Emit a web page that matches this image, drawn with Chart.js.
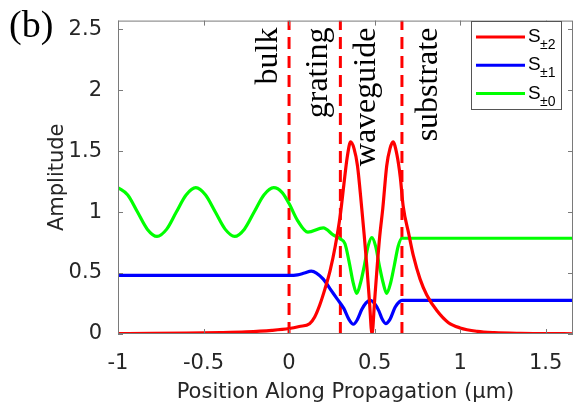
<!DOCTYPE html>
<html>
<head>
<meta charset="utf-8">
<script src="https://cdn.jsdelivr.net/npm/chart.js@4"></script>
<style>
  body { margin: 0; background: #fff; }
  #wrap { width: 574px; height: 408px; }
</style>
</head>
<body>
<div id="wrap"><canvas id="ampChart" width="574" height="408"></canvas></div>
<script>
// position (um), amplitude pairs
const sPm2 = [
  [-1, 0.004], [-0.8, 0.005], [-0.6, 0.007], [-0.4, 0.011], [-0.25, 0.017], [-0.1, 0.03],
  [0, 0.045], [0.06, 0.062], [0.12, 0.085], [0.15, 0.14], [0.18, 0.24], [0.21, 0.37],
  [0.24, 0.52], [0.27, 0.72], [0.30, 0.98], [0.32, 1.22], [0.34, 1.45], [0.36, 1.575],
  [0.38, 1.52], [0.40, 1.38], [0.425, 1.03], [0.44, 0.80], [0.455, 0.55], [0.47, 0.27],
  [0.485, 0.0], [0.50, 0.27], [0.515, 0.55], [0.53, 0.80], [0.548, 1.03], [0.571, 1.38],
  [0.59, 1.52], [0.608, 1.575], [0.63, 1.475], [0.65, 1.29], [0.667, 1.05], [0.70, 0.82],
  [0.727, 0.64], [0.766, 0.45], [0.805, 0.32], [0.865, 0.19], [0.93, 0.095], [1.0, 0.05],
  [1.1, 0.022], [1.2, 0.011], [1.35, 0.005], [1.5, 0.003], [1.66, 0.002]
];
const sPm1 = [
  [-1, 0.48], [0, 0.48], [0.05, 0.485], [0.09, 0.5], [0.13, 0.515], [0.16, 0.5],
  [0.2, 0.45], [0.24, 0.37], [0.28, 0.29], [0.32, 0.21], [0.35, 0.12], [0.376, 0.08],
  [0.40, 0.12], [0.425, 0.2], [0.45, 0.255], [0.474, 0.275], [0.50, 0.25], [0.525, 0.19],
  [0.545, 0.12], [0.565, 0.085], [0.59, 0.12], [0.62, 0.22], [0.645, 0.265], [0.66, 0.275],
  [1.66, 0.275]
];
const sPm0 = [
  [-1, 1.2], [-0.943, 1.14], [-0.886, 1.0], [-0.829, 0.86], [-0.772, 0.8], [-0.715, 0.86],
  [-0.659, 1.0], [-0.602, 1.14], [-0.545, 1.2], [-0.488, 1.14], [-0.431, 1.0], [-0.374, 0.86],
  [-0.318, 0.8], [-0.261, 0.86], [-0.204, 1.0], [-0.147, 1.14], [-0.09, 1.2], [-0.04, 1.16],
  [0, 1.07], [0.05, 0.93], [0.11, 0.835], [0.2, 0.87], [0.26, 0.81], [0.3, 0.78],
  [0.327, 0.74], [0.35, 0.6], [0.375, 0.42], [0.396, 0.333], [0.418, 0.42], [0.44, 0.56],
  [0.462, 0.72], [0.484, 0.79], [0.506, 0.72], [0.528, 0.56], [0.55, 0.42], [0.571, 0.333],
  [0.594, 0.42], [0.615, 0.56], [0.638, 0.72], [0.66, 0.785], [1.66, 0.785]
];
const boundaries = [0, 0.3, 0.66];
const regionNames = ['bulk', 'grating', 'waveguide', 'substrate'];
const legendNames = [['S', '\u00b12'], ['S', '\u00b11'], ['S', '\u00b10']];
const xTicks = [-1, -0.5, 0, 0.5, 1, 1.5];
const yTicks = [0, 0.5, 1, 1.5, 2, 2.5];
const xMin = -1, xMax = 1.66, yMin = 0, yMax = 2.57;

const colors = ['#FF0000', '#0000FF', '#00FF00'];
const axisGray = '#7a7a7a';
const textDark = '#262626';
const sans = 'DejaVu Sans';

const toPts = arr => arr.map(p => ({ x: p[0], y: p[1] }));

const curve = (data, color, order) => ({
  data: toPts(data),
  borderColor: color,
  borderWidth: 3.2,
  pointRadius: 0,
  cubicInterpolationMode: 'monotone',
  order: order,
});

const dashed = boundaries.map(b => ({
  data: [{ x: b, y: yMin }, { x: b, y: yMax }],
  borderColor: '#FF0000',
  borderWidth: 3,
  borderDash: [12, 7],
  pointRadius: 0,
  tension: 0,
  order: 10,
}));

// region label anchors (x in data units, text ends near the top)
const regionX = [-0.07, 0.22, 0.50, 0.865];

const decor = {
  id: 'decor',
  afterDraw(chart) {
    const { ctx, chartArea: a, scales: { x, y } } = chart;
    ctx.save();

    // box and inward ticks
    ctx.strokeStyle = axisGray;
    ctx.lineWidth = 1;
    ctx.strokeRect(a.left + 0.5, a.top + 0.5, a.right - a.left - 1, a.bottom - a.top - 1);
    ctx.beginPath();
    x.ticks.forEach(t => {
      const px = Math.round(x.getPixelForValue(t.value)) + 0.5;
      ctx.moveTo(px, a.bottom); ctx.lineTo(px, a.bottom - 5);
      ctx.moveTo(px, a.top); ctx.lineTo(px, a.top + 5);
    });
    y.ticks.forEach(t => {
      const py = Math.round(y.getPixelForValue(t.value)) + 0.5;
      ctx.moveTo(a.left, py); ctx.lineTo(a.left + 5, py);
      ctx.moveTo(a.right, py); ctx.lineTo(a.right - 5, py);
    });
    ctx.stroke();

    // region labels
    ctx.fillStyle = '#000';
    ctx.font = '32px "Liberation Serif"';
    ctx.textAlign = 'right';
    ctx.textBaseline = 'alphabetic';
    regionNames.forEach((name, i) => {
      ctx.save();
      ctx.translate(x.getPixelForValue(regionX[i]), a.top + 7);
      ctx.rotate(-Math.PI / 2);
      ctx.fillText(name, 0, 0);
      ctx.restore();
    });

    // panel tag
    ctx.textAlign = 'left';
    ctx.font = '38px "Liberation Serif"';
    ctx.fillText('(b)', 9, 37);

    // legend
    const lx = 471, ly = 21, lw = 90, lh = 88;
    ctx.fillStyle = '#fff';
    ctx.fillRect(lx, ly, lw, lh);
    ctx.strokeStyle = '#555';
    ctx.strokeRect(lx + 0.5, ly + 0.5, lw, lh);
    legendNames.forEach((nm, i) => {
      const cy = ly + 16 + i * 28.3;
      ctx.strokeStyle = colors[i];
      ctx.lineWidth = 3;
      ctx.beginPath();
      ctx.moveTo(lx + 5, cy); ctx.lineTo(lx + 54, cy);
      ctx.stroke();
      ctx.fillStyle = '#000';
      ctx.font = '19px "Liberation Sans"';
      ctx.fillText(nm[0], lx + 57, cy + 5);
      ctx.font = '14px "Liberation Sans"';
      ctx.fillText(nm[1], lx + 69, cy + 12);
    });
    ctx.restore();
  },
};

new Chart(document.getElementById('ampChart'), {
  type: 'line',
  data: {
    datasets: [...dashed, curve(sPm0, colors[2], 3), curve(sPm1, colors[1], 2), curve(sPm2, colors[0], 1)],
  },
  options: {
    responsive: false,
    animation: false,
    layout: { padding: { top: 8, right: 1, left: 0, bottom: 0 } },
    plugins: {
      legend: { display: false },
      tooltip: { enabled: false },
    },
    scales: {
      x: {
        type: 'linear',
        min: xMin,
        max: xMax,
        afterBuildTicks: s => { s.ticks = xTicks.map(v => ({ value: v })); },
        afterFit: s => { s.height = 74; },
        grid: { display: false },
        border: { display: false },
        ticks: {
          color: textDark,
          padding: 9,
          maxRotation: 0,
          font: { family: sans, size: 21 },
          callback: v => String(v),
        },
        title: {
          display: true,
          text: 'Position Along Propagation (\u03bcm)',
          color: textDark,
          font: { family: sans, size: 21 },
          padding: { top: 0, bottom: 3 },
        },
      },
      y: {
        type: 'linear',
        min: yMin,
        max: yMax,
        afterBuildTicks: s => { s.ticks = yTicks.map(v => ({ value: v })); },
        afterFit: s => { s.width = 118; },
        grid: { display: false },
        border: { display: false },
        ticks: {
          color: textDark,
          padding: 8,
          font: { family: sans, size: 21 },
          callback: v => String(v),
        },
        title: {
          display: true,
          text: 'Amplitude',
          color: textDark,
          font: { family: sans, size: 21 },
          padding: { top: 45, bottom: 0 },
        },
      },
    },
  },
  plugins: [decor],
});
</script>
</body>
</html>
